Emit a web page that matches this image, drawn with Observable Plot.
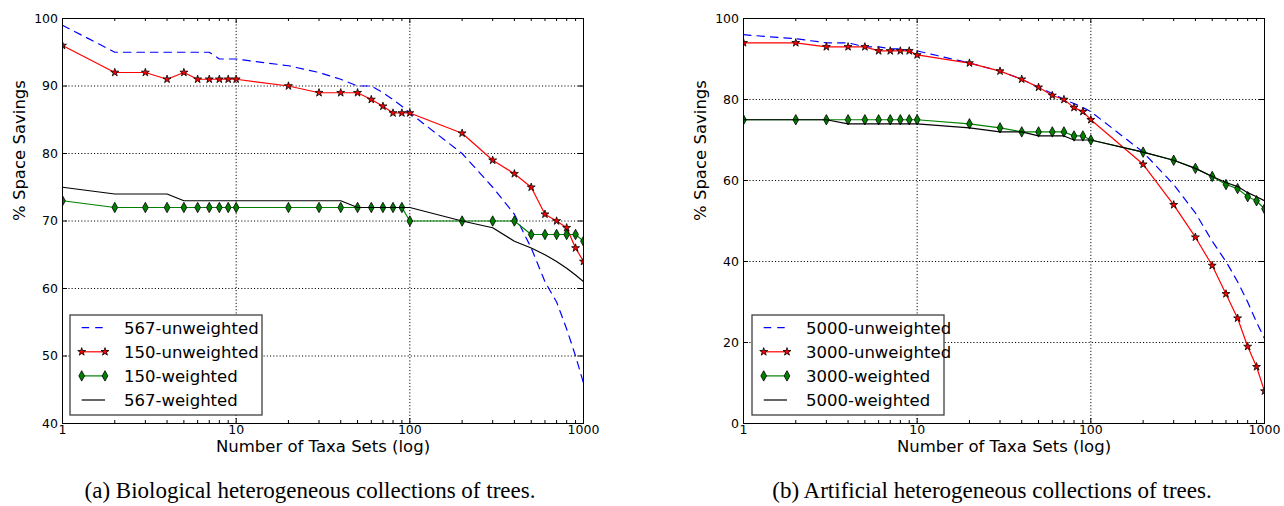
<!DOCTYPE html>
<html>
<head>
<meta charset="utf-8">
<script src="https://cdn.jsdelivr.net/npm/d3@7"></script>
<script src="https://cdn.jsdelivr.net/npm/@observablehq/plot@0.6"></script>
<style>
  body { margin: 0; background: #fff; }
  #wrap { position: relative; width: 1284px; height: 506px; background: #fff; font-family: "DejaVu Sans", sans-serif; }
  #wrap > svg { position: absolute; top: 0; }
</style>
</head>
<body>
<div id="wrap"></div>
<script>
// ---------------- data ----------------
const taxaSets = [1,2,3,4,5,6,7,8,9,10,20,30,40,50,60,70,80,90,100,200,300,400,500,600,700,800,900,1000];
const xTicks = [1, 10, 100, 1000];
const minorTicks = [2,3,4,5,6,7,8,9,20,30,40,50,60,70,80,90,200,300,400,500,600,700,800,900];

// (a) biological
const bioYTicks = [40, 50, 60, 70, 80, 90, 100];
const bioNames = ["567-unweighted", "150-unweighted", "150-weighted", "567-weighted"];
const bio567Unweighted = [99,95,95,95,95,95,95,94,94,94,93,92,91,90,90,89,88,87,86,80,75,71,66,61,58,54,50,46];
const bio150Unweighted = [96,92,92,91,92,91,91,91,91,91,90,89,89,89,88,87,86,86,86,83,79,77,75,71,70,69,66,64];
const bio150Weighted   = [73,72,72,72,72,72,72,72,72,72,72,72,72,72,72,72,72,72,70,70,70,70,68,68,68,68,68,67];
const bio567Weighted   = [75,74,74,74,73,73,73,73,73,73,73,73,73,72,72,72,72,72,72,70,69,67,66,65,64,63,62,61];

// (b) artificial
const artYTicks = [0, 20, 40, 60, 80, 100];
const artNames = ["5000-unweighted", "3000-unweighted", "3000-weighted", "5000-weighted"];
const art5000Unweighted = [96,95,94,94,93,93,92.5,92.5,92,92,89,87,85,83,81.5,80,79,78,77,67,59,52,45,40,35,30,25,21];
const art3000Unweighted = [94,94,93,93,93,92,92,92,92,91,89,87,85,83,81,80,78,77,75,64,54,46,39,32,26,19,14,8];
const art3000Weighted   = [75,75,75,75,75,75,75,75,75,75,74,73,72,72,72,72,71,71,70,67,65,63,61,59,58,56,55,53];
const art5000Weighted   = [75,75,75,74,74,74,74,74,74,74,73,72,72,71,71,71,70,70,70,67,65,63,61,59.5,58.5,57,56,55];

const xLabel = "Number of Taxa Sets (log)";
const yLabel = "% Space Savings";
const captionA = "(a) Biological heterogeneous collections of trees.";
const captionB = "(b) Artificial heterogeneous collections of trees.";

// ---------------- styles ----------------
const thinDiamond = {
  draw(ctx, size) {
    const r = Math.sqrt(size / Math.PI);
    const w = r * 0.55;
    ctx.moveTo(0, -r); ctx.lineTo(w, 0); ctx.lineTo(0, r); ctx.lineTo(-w, 0); ctx.closePath();
  }
};
const seriesStyles = [
  { stroke: "#0000ff", dash: "7.5,6" },
  { stroke: "#ff0000", symbol: "star", r: 2.5, fill: "#ff0000" },
  { stroke: "#008000", symbol: thinDiamond, r: 5.2, fill: "#008000" },
  { stroke: "#000000" }
];

const W = 642, H = 470, MT = 18, MB = 47;

function makePanel(seriesValues, yTicks, marginLeft, marginRight) {
  const ph = H - MT - MB, pw = W - marginLeft - marginRight;
  const grid = { stroke: "#000", strokeDasharray: "1.1,2.1", strokeWidth: 1 };
  const marks = [
    Plot.ruleY(yTicks.slice(1, -1), { y: d => d, ...grid }),
    Plot.ruleX(xTicks.slice(1, -1), { x: d => d, ...grid }),
    Plot.tickX(minorTicks, { x: d => d, insetTop: ph - 3, stroke: "#000" }),
    Plot.tickX(minorTicks, { x: d => d, insetBottom: ph - 3, stroke: "#000" }),
    Plot.tickX(xTicks, { x: d => d, insetTop: ph - 5, stroke: "#000" }),
    Plot.tickX(xTicks, { x: d => d, insetBottom: ph - 5, stroke: "#000" }),
    Plot.tickY(yTicks, { y: d => d, insetRight: pw - 5, stroke: "#000" }),
    Plot.tickY(yTicks, { y: d => d, insetLeft: pw - 5, stroke: "#000" })
  ];
  seriesValues.forEach((vals, k) => {
    const st = seriesStyles[k];
    const rows = taxaSets.map((x, i) => ({ x, y: vals[i] }));
    marks.push(Plot.line(rows, { x: "x", y: "y", stroke: st.stroke, strokeWidth: 1.2, strokeDasharray: st.dash, clip: true }));
    if (st.symbol) {
      marks.push(Plot.dot(rows, { x: "x", y: "y", symbol: st.symbol, r: st.r, fill: st.fill, stroke: "#000", strokeWidth: 0.8, clip: true }));
    }
  });
  marks.push(
    Plot.frame({ stroke: "#000", strokeWidth: 1 }),
    Plot.axisX({ ticks: xTicks, tickFormat: d => String(d), tickSize: 0, tickPadding: 2, label: null }),
    Plot.axisY({ ticks: yTicks, tickFormat: d => String(d), tickSize: 0, tickPadding: 4.5, label: null }),
    Plot.text([xLabel], { text: d => d, frameAnchor: "bottom", dy: 28, fontSize: 16.5, fill: "#000" }),
    Plot.text([yLabel], { text: d => d, frameAnchor: "left", dx: -43, rotate: -90, fontSize: 16.5, fill: "#000" })
  );
  return Plot.plot({
    width: W, height: H,
    marginLeft, marginRight, marginTop: MT, marginBottom: MB,
    x: { type: "log", domain: [1, 1000], label: null },
    y: { type: "linear", domain: [yTicks[0], yTicks[yTicks.length - 1]], label: null },
    style: { fontFamily: "DejaVu Sans, sans-serif", fontSize: "12.5px", color: "#000", background: "transparent", overflow: "visible" },
    marks
  });
}

const wrap = document.getElementById("wrap");
const left = makePanel([bio567Unweighted, bio150Unweighted, bio150Weighted, bio567Weighted], bioYTicks, 62, 59);
left.style.left = "0px";
wrap.appendChild(left);
const right = makePanel([art5000Unweighted, art3000Unweighted, art3000Weighted, art5000Weighted], artYTicks, 101, 20);
right.style.left = "642px";
wrap.appendChild(right);

// ---------------- overlay: legends + captions ----------------
const ov = d3.select(wrap).append("svg")
  .attr("width", 1284).attr("height", 506)
  .style("left", "0px").style("pointer-events", "none");

function legend(x0, y0, names) {
  const g = ov.append("g").attr("transform", `translate(${x0},${y0})`);
  g.append("rect").attr("x", 0).attr("y", 0).attr("width", 192).attr("height", 100)
    .attr("fill", "#fff").attr("stroke", "#404040").attr("stroke-width", 1.3);
  names.forEach((name, i) => {
    const st = seriesStyles[i];
    const y = 12.7 + i * 24.1;
    g.append("line").attr("x1", 11.7).attr("x2", 35).attr("y1", y).attr("y2", y)
      .attr("stroke", st.stroke).attr("stroke-width", 1.2)
      .attr("stroke-dasharray", st.dash || null);
    if (st.symbol) {
      const type = st.symbol === "star" ? d3.symbolStar : st.symbol;
      const path = d3.symbol(type, st.r * st.r * Math.PI)();
      [11.7, 35].forEach(x => {
        g.append("path").attr("d", path).attr("transform", `translate(${x},${y})`)
          .attr("fill", st.fill).attr("stroke", "#000").attr("stroke-width", 0.8);
      });
    }
    g.append("text").attr("x", 54).attr("y", y).attr("dy", "0.36em")
      .attr("font-family", "DejaVu Sans, sans-serif").attr("font-size", 16.5)
      .attr("fill", "#000").text(name);
  });
}
legend(70, 315, bioNames);
legend(752, 315, artNames);

[[captionA, 310], [captionB, 992]].forEach(([t, cx]) => {
  ov.append("text").attr("x", cx).attr("y", 498).attr("text-anchor", "middle")
    .attr("font-family", "Liberation Serif, serif").attr("font-size", 23)
    .attr("fill", "#000").text(t);
});
</script>
</body>
</html>
